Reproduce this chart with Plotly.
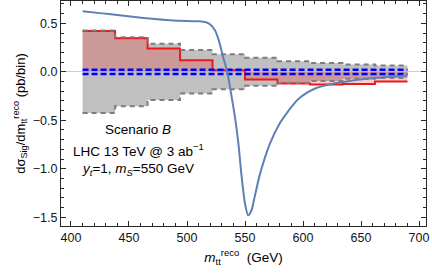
import plotly.graph_objects as go

# ---- data ----
bin_edges = [410, 438, 466, 494, 522, 550, 578, 606, 634, 662, 690]
signal_hist = [0.42, 0.345, 0.24, 0.12, 0.015, -0.08, -0.12, -0.13, -0.125, -0.10]
band_upper = [0.425, 0.355, 0.29, 0.225, 0.18, 0.145, 0.11, 0.09, 0.075, 0.065]
band_lower = [-0.425, -0.355, -0.29, -0.225, -0.18, -0.145, -0.115, -0.095, -0.072, -0.063]
blue_upper = 0.022
blue_lower = -0.024

curve_m = [410, 425, 440, 455, 470, 485, 500, 510, 517, 520, 524, 527, 531, 535,
           538.5, 541.5, 544.3, 547, 550, 552.8, 555.5, 558.5, 563, 571.5, 580,
           587, 596, 611, 625, 640, 655, 670, 690]
curve_val = [0.625, 0.605, 0.585, 0.565, 0.547, 0.532, 0.523, 0.52, 0.508, 0.488,
             0.43, 0.34, 0.16, -0.02, -0.26, -0.48, -0.74, -1.07, -1.36, -1.48,
             -1.43, -1.28, -1.05, -0.74, -0.53, -0.41, -0.28, -0.17, -0.125,
             -0.095, -0.072, -0.055, -0.038]

x_ticks = [400, 450, 500, 550, 600, 650, 700]
y_ticks = [-1.5, -1.0, -0.5, 0.0, 0.5]


def step(vals):
    return list(vals) + [vals[-1]]


FONT = "Liberation Sans, Arial, sans-serif"
GRAY_LINE = "rgb(125,125,125)"
RED = "rgb(235,25,25)"

fig = go.Figure()

# gray uncertainty band
fig.add_trace(go.Scatter(x=bin_edges, y=step(band_upper), mode="lines",
                         line=dict(shape="hv", width=0), hoverinfo="skip",
                         showlegend=False))
fig.add_trace(go.Scatter(x=bin_edges, y=step(band_lower), mode="lines",
                         line=dict(shape="hv", width=0), fill="tonexty",
                         fillcolor="rgb(192,192,192)", hoverinfo="skip",
                         showlegend=False))
# red fill to zero
fig.add_trace(go.Scatter(x=bin_edges, y=[0] * len(bin_edges), mode="lines",
                         line=dict(shape="hv", width=0), hoverinfo="skip",
                         showlegend=False))
fig.add_trace(go.Scatter(x=bin_edges, y=step(signal_hist), mode="lines",
                         line=dict(shape="hv", width=0), fill="tonexty",
                         fillcolor="rgba(255,0,0,0.2)", hoverinfo="skip",
                         showlegend=False))
# red step line
fig.add_trace(go.Scatter(x=bin_edges, y=step(signal_hist), mode="lines",
                         line=dict(shape="hv", width=2, color=RED),
                         showlegend=False))
# gray dashed edges
for b in (band_upper, band_lower):
    fig.add_trace(go.Scatter(x=bin_edges, y=step(b), mode="lines",
                             line=dict(shape="hv", width=2, color=GRAY_LINE,
                                       dash="5px,4px"),
                             showlegend=False))
# blue dashed lines
for v in (blue_upper, blue_lower):
    fig.add_trace(go.Scatter(x=[bin_edges[0], bin_edges[-1]], y=[v, v],
                             mode="lines",
                             line=dict(width=2.5, color="rgb(0,0,255)",
                                       dash="6px,3px"),
                             showlegend=False))
# theory curve
fig.add_trace(go.Scatter(x=curve_m, y=curve_val, mode="lines",
                         line=dict(shape="spline", smoothing=0.8, width=2,
                                   color="rgb(94,129,181)"),
                         showlegend=False))

ann_font = dict(family=FONT, size=13.5, color="black")
fig.add_annotation(x=458, y=-0.59, xref="x", yref="y", showarrow=False,
                   text="Scenario <i>B</i>", font=ann_font)
fig.add_annotation(x=458, y=-0.805, xref="x", yref="y", showarrow=False,
                   text="LHC 13 TeV @ 3 ab<sup>\u22121</sup>", font=ann_font)
fig.add_annotation(x=458, y=-1.01, xref="x", yref="y", showarrow=False,
                   text="<i>y</i><sub><i>t</i></sub>=1, <i>m</i><sub><i>S</i></sub>=550 GeV",
                   font=ann_font)

axis_common = dict(
    showline=True, linecolor="rgb(40,40,40)", linewidth=1.2, mirror="allticks",
    ticks="inside", ticklen=5, tickwidth=1, tickcolor="rgb(40,40,40)",
    showgrid=False, ticklabeloverflow="allow",
    tickfont=dict(family=FONT, size=12.5, color="rgb(20,20,20)"),
)

fig.update_layout(
    width=432, height=275,
    margin=dict(l=61, r=6, t=1, b=49),
    paper_bgcolor="white", plot_bgcolor="white",
    font=dict(family=FONT, size=12, color="black"),
    xaxis=dict(range=[391.4, 706], tickvals=x_ticks, zeroline=False,
               minor=dict(dtick=10, ticks="inside", ticklen=3,
                          tickcolor="rgb(40,40,40)"),
               title=dict(text="<i>m</i><sub>tt</sub><sup>reco</sup>  (GeV)",
                          font=dict(family=FONT, size=13.5), standoff=8),
               **axis_common),
    yaxis=dict(range=[-1.59, 0.73], tickvals=y_ticks, tickformat=".1f",
               zeroline=True, zerolinecolor="rgb(205,205,205)", zerolinewidth=1,
               minor=dict(dtick=0.1, ticks="inside", ticklen=3,
                          tickcolor="rgb(40,40,40)"),
               title=dict(text="d\u03c3<sub>Sig</sub>/dm<sub>tt</sub><sup>reco</sup> (pb/bin)",
                          font=dict(family=FONT, size=13), standoff=4),
               **axis_common),
)

fig.write_html("out.html", config={"displayModeBar": False},
               post_script="document.body.style.margin='0';")
